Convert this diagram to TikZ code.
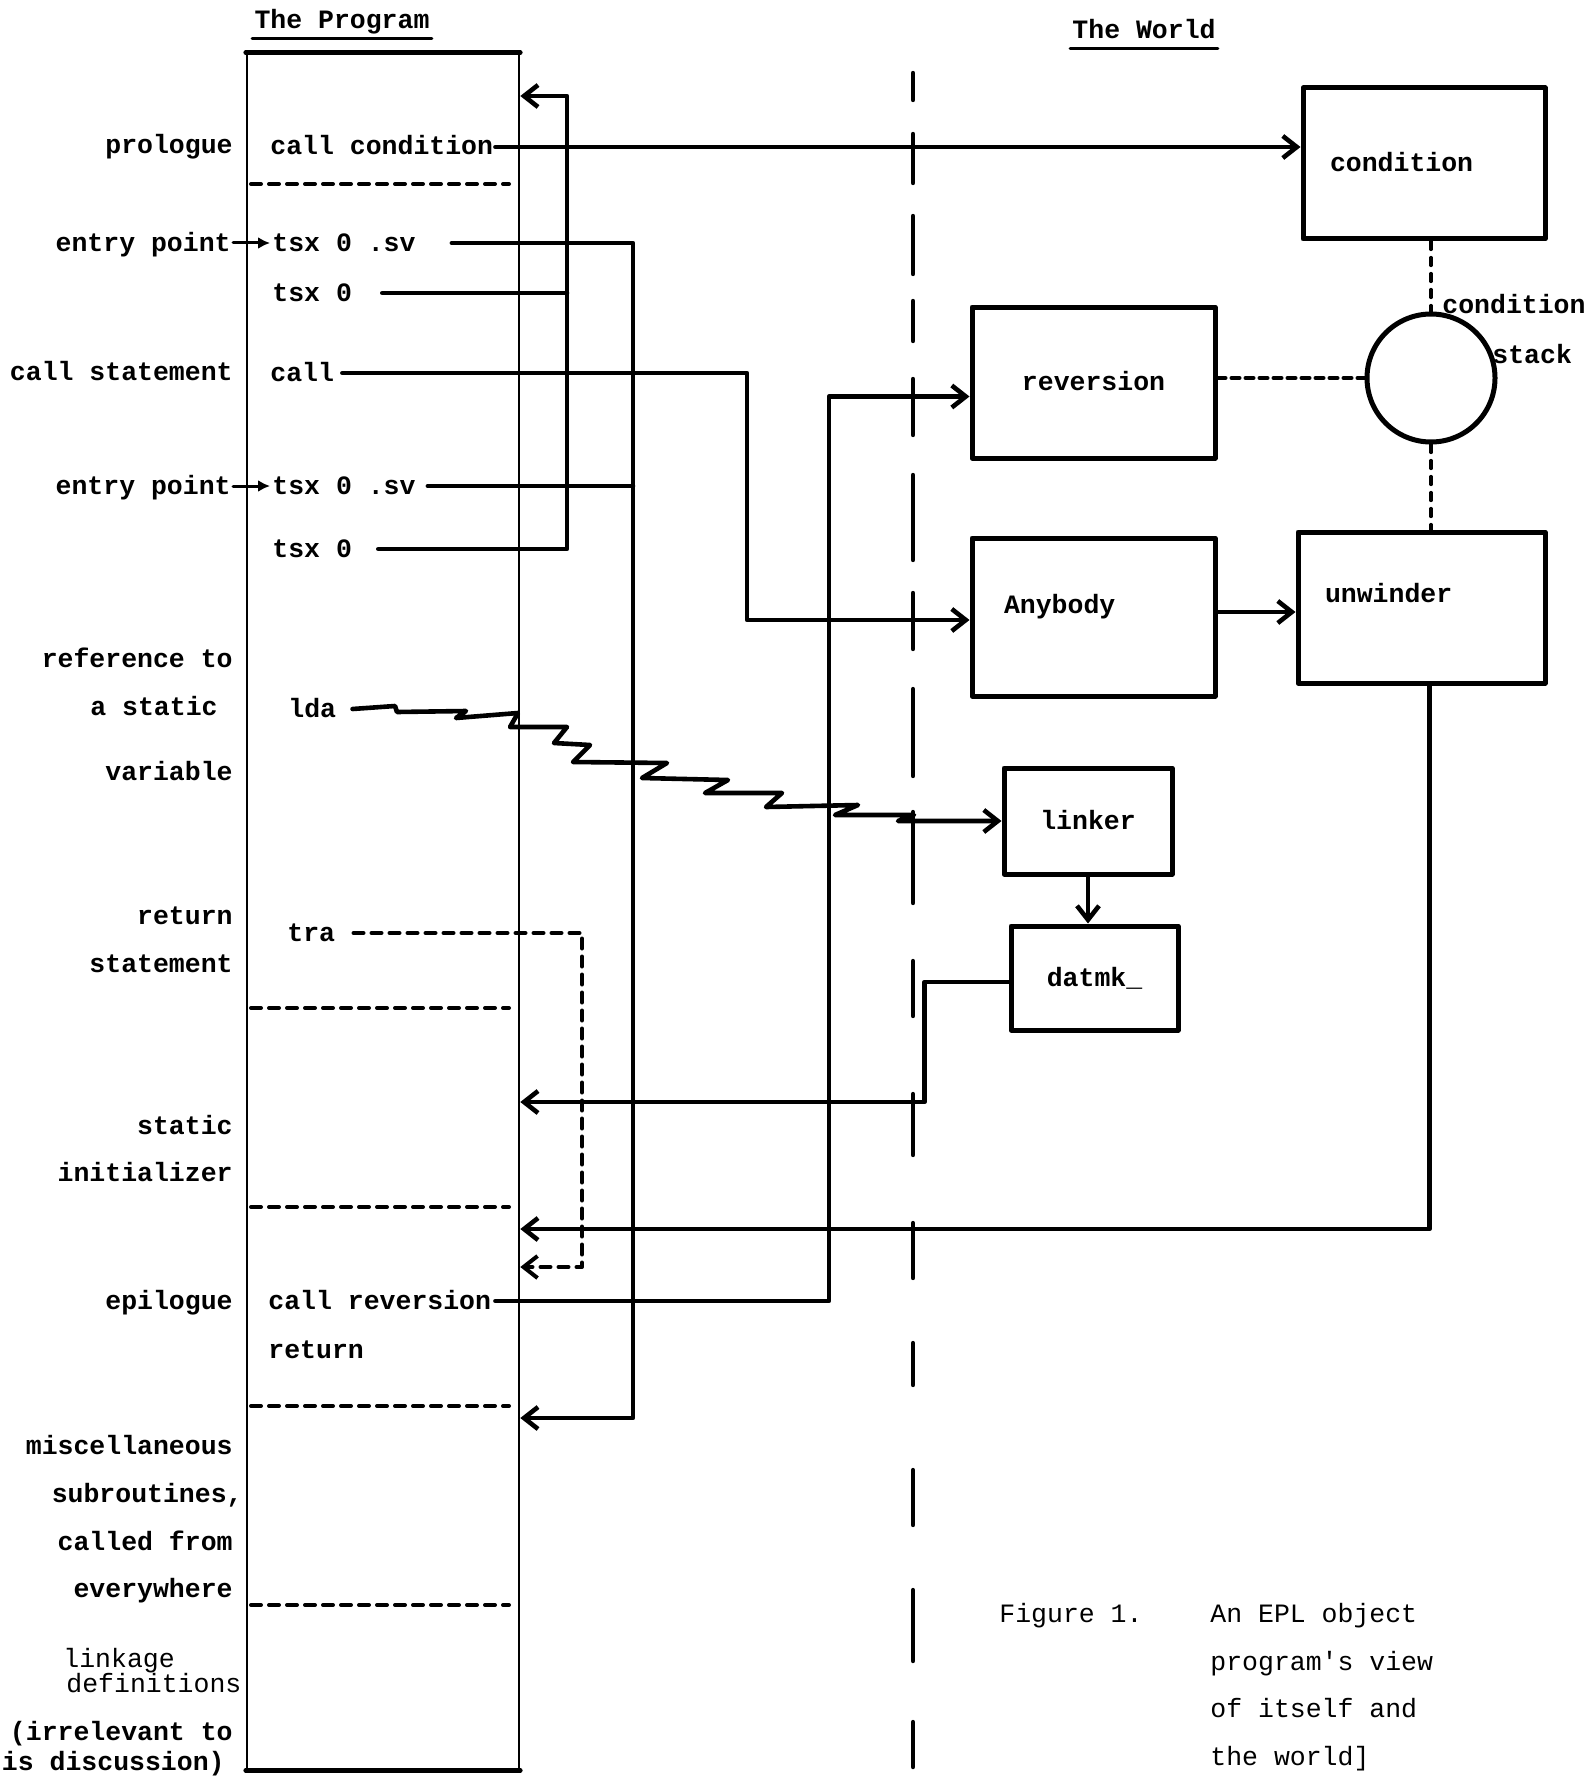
\documentclass[tikz,border=0pt]{standalone}
\usepackage{fontspec}
\newfontfamily\typewriter{Liberation Mono}
\usetikzlibrary{arrows.meta, positioning}

\begin{document}
\begin{tikzpicture}[
        x=0.5pt, y=-0.5pt,
        >={Straight Barb[length=7pt, width=11pt]},
        line cap=round, line join=round,
        txt/.style={font=\typewriter\bfseries\fontsize{13.25}{16}\selectfont,
            inner sep=1pt, text height=9.5pt, text depth=1.5pt},
        lbl/.style={txt, anchor=east},
        ins/.style={txt, anchor=west},
        plain/.style={txt, font=\typewriter\fontsize{13.25}{16}\selectfont, anchor=west},
        wbox/.style={txt, draw, line width=2.5pt},
        conn/.style={line width=2.3pt},
        sepline/.style={line width=2pt, dash pattern=on 5pt off 4pt},
        stackdash/.style={line width=1.6pt, dash pattern=on 4pt off 4pt}
    ]

    \useasboundingbox (0,0) rectangle (1588,1776);
    \clip (0,0) rectangle (1588,1776);

    % the program
    \node[txt] (progttl) at (342,21) {The Program};
    \draw[line width=1.5pt] ([yshift=-2pt]progttl.south west) -- ([yshift=-2pt]progttl.south east);
    \node[draw, line width=1.3pt, minimum width=136pt, minimum height=857.5pt] (prog) at (383,911.5) {};
    \draw[line width=2.3pt] (prog.north west) -- (prog.north east);
    \draw[line width=2.3pt] (prog.south west) -- (prog.south east);
    \foreach \y in {184,1008,1207,1406,1605}
        \draw[sepline] (251,\y) -- (509,\y);

    \node[lbl] (prolog) at (235,146) {prologue};
    \node[lbl] (entry1) at (233,243) {entry point};
    \node[lbl] (callst) at (235,372) {call statement};
    \node[lbl] (entry2) at (233,486) {entry point};
    \node[lbl] (refto) at (235,659) {reference to};
    \node[lbl] (astatic) at (220,707) {a static};
    \node[lbl] (variab) at (235,772) {variable};
    \node[lbl] (retst1) at (235,916) {return};
    \node[lbl] (retst2) at (235,964) {statement};
    \node[lbl] (statini1) at (235,1126) {static};
    \node[lbl] (statini2) at (235,1173) {initializer};
    \node[lbl] (epilog) at (235,1301) {epilogue};
    \node[lbl] (misc1) at (235,1446) {miscellaneous};
    \node[lbl] (misc2) at (245,1494) {subroutines,};
    \node[lbl] (misc3) at (235,1542) {called from};
    \node[lbl] (misc4) at (235,1589) {everywhere};
    \node[plain] (link1) at (61,1659) {linkage};
    \node[plain] (link2) at (64,1684) {definitions};
    \node[lbl] (link3) at (235,1732) {(irrelevant to};
    \node[lbl] (link4) at (227,1762) {is discussion)};

    \node[ins] (callcond) at (268,147) {call condition};
    \node[ins] (tsxsv1) at (270,243) {tsx 0 .sv};
    \node[ins] (tsxa) at (270,293) {tsx 0};
    \node[ins] (callop) at (268,373) {call};
    \node[ins] (tsxsv2) at (270,486) {tsx 0 .sv};
    \node[ins] (tsxb) at (270,549) {tsx 0};
    \node[ins] (lda) at (286,709) {lda};
    \node[ins] (tra) at (285,933) {tra};
    \node[ins] (callrev) at (266,1301) {call reversion};
    \node[ins] (retop) at (266,1350) {return};

    % the world
    \node[txt] (worldttl) at (1144,31) {The World};
    \draw[line width=1.5pt] ([yshift=-2pt]worldttl.south west) -- ([yshift=-2pt]worldttl.south east);
    \foreach \ya/\yb in {73/100, 134/183, 216/274, 301/341, 379/435, 475/560, 593/649,
            689/776, 812/903, 961/1016, 1094/1155, 1223/1278, 1343/1385, 1470/1525,
            1590/1661, 1722/1767}
        \draw[line width=2.2pt] (913,\ya) -- (913,\yb);

    \node[wbox, minimum width=121pt, minimum height=75.5pt, text width=94pt, align=left,
        inner xsep=13.5pt] (cond) at (1424,163.5) {condition};
    \node[draw, circle, line width=2.5pt, minimum size=64pt] (stack) at (1431,378) {};
    \node[ins] (stklbl1) at (1440,306) {condition};
    \node[ins] (stklbl2) at (1490,355) {stack};
    \node[wbox, minimum width=121.5pt, minimum height=75.5pt] (rev) at (1093.5,382.5) {reversion};
    \node[wbox, minimum width=121.5pt, minimum height=79pt, text width=89.5pt, align=left,
        inner xsep=16pt, text depth=13.5pt] (anyb) at (1093.5,617) {Anybody};
    \node[wbox, minimum width=123.5pt, minimum height=75.5pt, text width=96.5pt, align=left,
        inner xsep=13.5pt, text depth=15pt] (unw) at (1421.5,607.5) {unwinder};
    \node[wbox, minimum width=84pt, minimum height=53pt] (link) at (1088,821) {linker};
    \node[wbox, minimum width=83.5pt, minimum height=52pt] (dat) at (1094.5,978) {datmk\_};

    % calls out of the program
    \draw[conn,->] (callcond.east) -- (callcond.east -| cond.west);
    \coordinate (callx) at (747,500);
    \draw[conn,->] ([xshift=3pt]callop.east) -| (callx) |- ([yshift=-1.5pt]anyb.west);
    \coordinate (revx) at (829,800);
    \draw[conn,->] ([xshift=1pt]callrev.east) -| (revx) |- ([yshift=-7pt]rev.west);
    \draw[conn,->] ([xshift=7pt]lda.east) -- (395,706) -- (397,712) -- (466,711) -- (456,718)
        -- (518,713) -- (510,727) -- (567,727) -- (554,743) -- (590,745) -- (573,762)
        -- (667,763) -- (642,778) -- (728,780) -- (705,793) -- (782,793) -- (766,807)
        -- (858,805) -- (835,815) -- (914,815) -- (898,821) -- (link.west);

    % the world among itself
    \draw[conn,->] ([yshift=2.5pt]anyb.east) -- ([yshift=2.5pt]anyb.east -| unw.west);
    \draw[line width=2pt, dash pattern=on 4pt off 3pt] (rev.east |- stack.west) -- (stack.west);
    \draw[stackdash] (stack.north |- cond.south) -- (stack.north);
    \draw[stackdash] (stack.south) -- (stack.south |- unw.north);
    \draw[conn,->] (link.south) -- (link.south |- dat.north);

    % back into the program
    \coordinate (loopa) at (567,96);
    \draw[conn] ([xshift=14pt]tsxa.east) -- (tsxa.east -| loopa);
    \draw[conn,->] ([xshift=12pt]tsxb.east) -| (loopa) -- (loopa -| prog.east);
    \coordinate (loopb) at (633,1418);
    \draw[conn,->] ([xshift=17pt]tsxsv1.east) -| (loopb) -- (loopb -| prog.east);
    \draw[conn] ([xshift=5pt]tsxsv2.east) -- (tsxsv2.east -| loopb);
    \coordinate (datlvl) at (0,1102);
    \draw[conn,->] ([yshift=-2pt]dat.west) -- ++(-42pt,0) |- (prog.east |- datlvl);
    \coordinate (unwlvl) at (0,1229);
    \draw[conn,->] ([xshift=4pt]unw.south) |- (prog.east |- unwlvl);
    \coordinate (traret) at (582,1267);
    \draw[sepline,->] ([xshift=8pt]tra.east) -| (traret) -- (traret -| prog.east);

    % entry points
    \draw[line width=1.5pt, -{Latex[length=6pt, width=6pt]}] (entry1.east) -- (tsxsv1.west);
    \draw[line width=1.5pt, -{Latex[length=6pt, width=6pt]}] (entry2.east) -- (tsxsv2.west);

    % caption
    \node[plain] (fig) at (997,1614) {Figure 1.};
    \node[plain] (cap1) at (1208,1614) {An EPL object};
    \node[plain] (cap2) at (1208,1662) {program\textquotesingle s view};
    \node[plain] (cap3) at (1208,1709) {of itself and};
    \node[plain] (cap4) at (1208,1757) {the world]};

\end{tikzpicture}
\end{document}
